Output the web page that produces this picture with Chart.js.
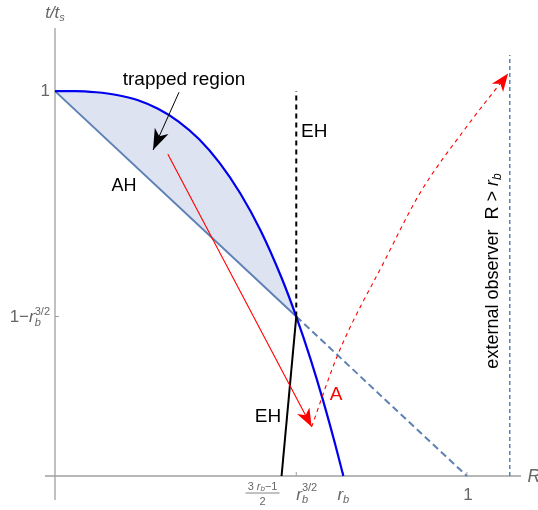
<!DOCTYPE html>
<html>
<head>
<meta charset="utf-8">
<script src="https://cdn.jsdelivr.net/npm/chart.js@4.4.1/dist/chart.umd.min.js"></script>
<style>
  html, body { margin: 0; padding: 0; background: #fff; }
  #wrap { width: 538px; height: 510px; }
</style>
</head>
<body>
<div id="wrap"><canvas id="diagram" width="538" height="510"></canvas></div>
<script>
// values (r_b = 0.7)
const rb = 0.7;
const rb32 = 0.5857;      // r_b^(3/2)
const tHit = 0.4143;      // 1 - r_b^(3/2)
const ehFoot = 0.55;      // (3 r_b - 1)/2

// star surface (blue curve)
const surfR = [0, 0.05, 0.1, 0.15, 0.2, 0.25, 0.3, 0.35, 0.4, 0.45, 0.5, 0.55, 0.5857, 0.62, 0.65, 0.68, 0.7];
const surfT = [1, 1.0, 0.997, 0.990, 0.977, 0.954, 0.921, 0.875, 0.813, 0.734, 0.636, 0.515, 0.414, 0.305, 0.199, 0.083, 0];

// apparent horizon t = 1 - R
const ahR = [0, rb32, 1];
const ahT = [1, tHit, 0];

// event horizon
const ehR = [ehFoot, rb32, rb32];
const ehT = [0, tHit, 1.0];

// external observer line
const obsR = [1.104, 1.104];
const obsT = [0, 1.094];

// light rays
const rayInR = [0.274, 0.623];
const rayInT = [0.836, 0.128];
const rayOutR = [0.623, 0.688, 0.801, 0.886, 0.999, 1.100];
const rayOutT = [0.128, 0.319, 0.561, 0.735, 0.907, 1.046];

// "trapped region" pointer
const ptrR = [0.301, 0.238];
const ptrT = [0.997, 0.847];

const pts = (xs, ys) => xs.map((x, i) => ({ x: x, y: ys[i] }));

// trapped region polygon: blue curve down to the crossing, then back along AH
const trapped = pts(surfR.slice(0, 13), surfT.slice(0, 13)).concat([{ x: 0, y: 1 }]);

function line(data, color, width, dash, extra) {
    return Object.assign({
        data: data,
        showLine: true,
        borderColor: color,
        borderWidth: width,
        borderDash: dash || [],
        pointRadius: 0,
        fill: false,
        tension: 0,
        clip: false
    }, extra || {});
}

const AH_COLOR = '#5e81b5';
const GRAY = '#666';
const FONT = '"Liberation Sans", Arial, sans-serif';
const f = (px, it) => (it ? 'italic ' : '') + px + 'px ' + FONT;

// draws a run of text pieces; piece: {t, f, dy, keep}
function rich(ctx, x, y, parts, align) {
    let total = 0, held = 0;
    parts.forEach(p => {
        ctx.font = p.f;
        const w = ctx.measureText(p.t).width;
        if (p.keep) { held = w; } else { total += Math.max(w, held); held = 0; }
    });
    let cx = align === 'right' ? x - total : align === 'center' ? x - total / 2 : x;
    held = 0;
    parts.forEach(p => {
        ctx.font = p.f;
        ctx.fillText(p.t, cx, y + (p.dy || 0));
        const w = ctx.measureText(p.t).width;
        if (p.keep) { held = w; } else { cx += Math.max(w, held); held = 0; }
    });
}

function arrowHead(ctx, x0, y0, x1, y1, len, half, color) {
    const a = Math.atan2(y1 - y0, x1 - x0);
    ctx.save();
    ctx.translate(x1, y1);
    ctx.rotate(a);
    ctx.fillStyle = color;
    ctx.beginPath();
    ctx.moveTo(0, 0);
    ctx.lineTo(-len, -half);
    ctx.lineTo(-len * 0.72, 0);
    ctx.lineTo(-len, half);
    ctx.closePath();
    ctx.fill();
    ctx.restore();
}

const decor = {
    id: 'decor',
    beforeDatasetsDraw(chart) {
        const ctx = chart.ctx;
        const xs = chart.scales.x, ys = chart.scales.y;
        const x0 = xs.getPixelForValue(0), y0 = ys.getPixelForValue(0);
        ctx.save();
        ctx.strokeStyle = '#a0a0a0';
        ctx.lineWidth = 1.3;
        ctx.beginPath();
        ctx.moveTo(x0 - 10, y0); ctx.lineTo(xs.right - 4, y0);
        ctx.moveTo(x0, y0 + 24); ctx.lineTo(x0, ys.top);
        ctx.stroke();
        // tick marks
        ctx.lineWidth = 1;
        ctx.beginPath();
        [ehFoot, rb32, rb, 1].forEach(v => {
            const px = xs.getPixelForValue(v);
            ctx.moveTo(px, y0); ctx.lineTo(px, y0 - 4);
        });
        [tHit, 1].forEach(v => {
            const py = ys.getPixelForValue(v);
            ctx.moveTo(x0, py); ctx.lineTo(x0 + 4, py);
        });
        ctx.stroke();
        ctx.restore();
    },
    afterDraw(chart) {
        const ctx = chart.ctx;
        const xs = chart.scales.x, ys = chart.scales.y;
        const X = v => xs.getPixelForValue(v), Y = v => ys.getPixelForValue(v);
        const x0 = X(0), y0 = Y(0);
        ctx.save();

        // arrow heads
        let n = rayInR.length - 1;
        arrowHead(ctx, X(rayInR[n - 1]), Y(rayInT[n - 1]), X(rayInR[n]), Y(rayInT[n]), 18, 7, '#ff0000');
        n = rayOutR.length - 1;
        arrowHead(ctx, X(rayOutR[n - 2]), Y(rayOutT[n - 2]), X(rayOutR[n]), Y(rayOutT[n]), 18, 7, '#ff0000');
        arrowHead(ctx, X(ptrR[0]), Y(ptrT[0]), X(ptrR[1]), Y(ptrT[1]), 21, 7.5, '#000');

        // tick labels
        ctx.fillStyle = GRAY;
        ctx.textBaseline = 'middle';
        rich(ctx, x0 - 5, Y(1), [{ t: '1', f: f(17) }], 'right');
        rich(ctx, x0 - 5, Y(tHit) + 1, [
            { t: '1\u2212', f: f(17) }, { t: 'r', f: f(17, true) },
            { t: 'b', f: f(11, true), dy: 5, keep: true }, { t: '3/2', f: f(11), dy: -6 }
        ], 'right');
        const ly = y0 + 19;
        rich(ctx, X(1) + 1, ly, [{ t: '1', f: f(17) }], 'center');
        rich(ctx, X(rb), ly, [{ t: 'r', f: f(17, true) }, { t: 'b', f: f(11, true), dy: 5 }], 'center');
        rich(ctx, X(rb32), ly, [
            { t: 'r', f: f(17, true) }, { t: 'b', f: f(11, true), dy: 5, keep: true }, { t: '3/2', f: f(11), dy: -7 }
        ], 'left');
        // (3 r_b - 1)/2
        const fx = X(ehFoot) - 19;
        rich(ctx, fx, y0 + 11, [
            { t: '3 ', f: f(11) }, { t: 'r', f: f(11, true) },
            { t: 'b', f: f(8, true), dy: 2 }, { t: '\u22121', f: f(11) }
        ], 'center');
        ctx.strokeStyle = GRAY;
        ctx.lineWidth = 0.8;
        ctx.beginPath();
        ctx.moveTo(fx - 17, y0 + 17); ctx.lineTo(fx + 17, y0 + 17);
        ctx.stroke();
        rich(ctx, fx, y0 + 26, [{ t: '2', f: f(11) }], 'center');

        // axis labels
        rich(ctx, 534, y0 + 1, [{ t: 'R', f: f(18, true) }], 'center');
        rich(ctx, x0, 13, [
            { t: 't/t', f: f(17, true) },
            { t: 's', f: f(11, true), dy: 5 }
        ], 'center');

        // annotations
        ctx.fillStyle = '#000';
        rich(ctx, 184, 80, [{ t: 'trapped region', f: f(19) }], 'center');
        rich(ctx, 301, 132, [{ t: 'EH', f: f(19) }], 'left');
        rich(ctx, 124, 186, [{ t: 'AH', f: f(18) }], 'center');
        rich(ctx, 268, 417, [{ t: 'EH', f: f(19) }], 'center');
        ctx.fillStyle = '#ff0000';
        rich(ctx, 336, 395, [{ t: 'A', f: f(19) }], 'center');

        ctx.fillStyle = '#000';
        ctx.translate(493, 271);
        ctx.rotate(-Math.PI / 2);
        rich(ctx, 0, 0, [
            { t: 'external observer  R > ', f: f(18) }, { t: 'r', f: f(18, true) }, { t: 'b', f: f(12, true), dy: 5 }
        ], 'center');
        ctx.restore();
    }
};

// lower index is drawn on top, so the shaded region goes last
new Chart(document.getElementById('diagram'), {
    type: 'scatter',
    data: {
        datasets: [
            line(pts(ptrR, ptrT), '#000', 1),
            line(pts(rayInR, rayInT), '#ff0000', 1.1),
            line(pts(rayOutR, rayOutT), '#ff0000', 1.1, [4, 4], { cubicInterpolationMode: 'monotone' }),
            line(pts(ehR.slice(0, 2), ehT.slice(0, 2)), '#000', 2),
            line(pts(ehR.slice(1), ehT.slice(1)), '#000', 2, [5, 4]),
            line(pts(surfR, surfT), '#0000ee', 2.2, null, { cubicInterpolationMode: 'monotone' }),
            line(pts(ahR.slice(0, 2), ahT.slice(0, 2)), AH_COLOR, 2),
            line(pts(ahR.slice(1), ahT.slice(1)), AH_COLOR, 2, [7, 4]),
            line(pts(obsR, obsT), AH_COLOR, 1.5, [4, 3]),
            line(trapped, 'rgba(0,0,0,0)', 0, null, { fill: 'shape', backgroundColor: '#dde3f0' })
        ]
    },
    options: {
        responsive: false,
        animation: false,
        layout: { padding: { left: 55, right: 13, top: 28, bottom: 34 } },
        plugins: { legend: { display: false }, tooltip: { enabled: false } },
        scales: {
            x: { type: 'linear', min: 0, max: 1.141, display: false },
            y: { type: 'linear', min: 0, max: 1.164, display: false }
        }
    },
    plugins: [decor]
});
</script>
</body>
</html>
